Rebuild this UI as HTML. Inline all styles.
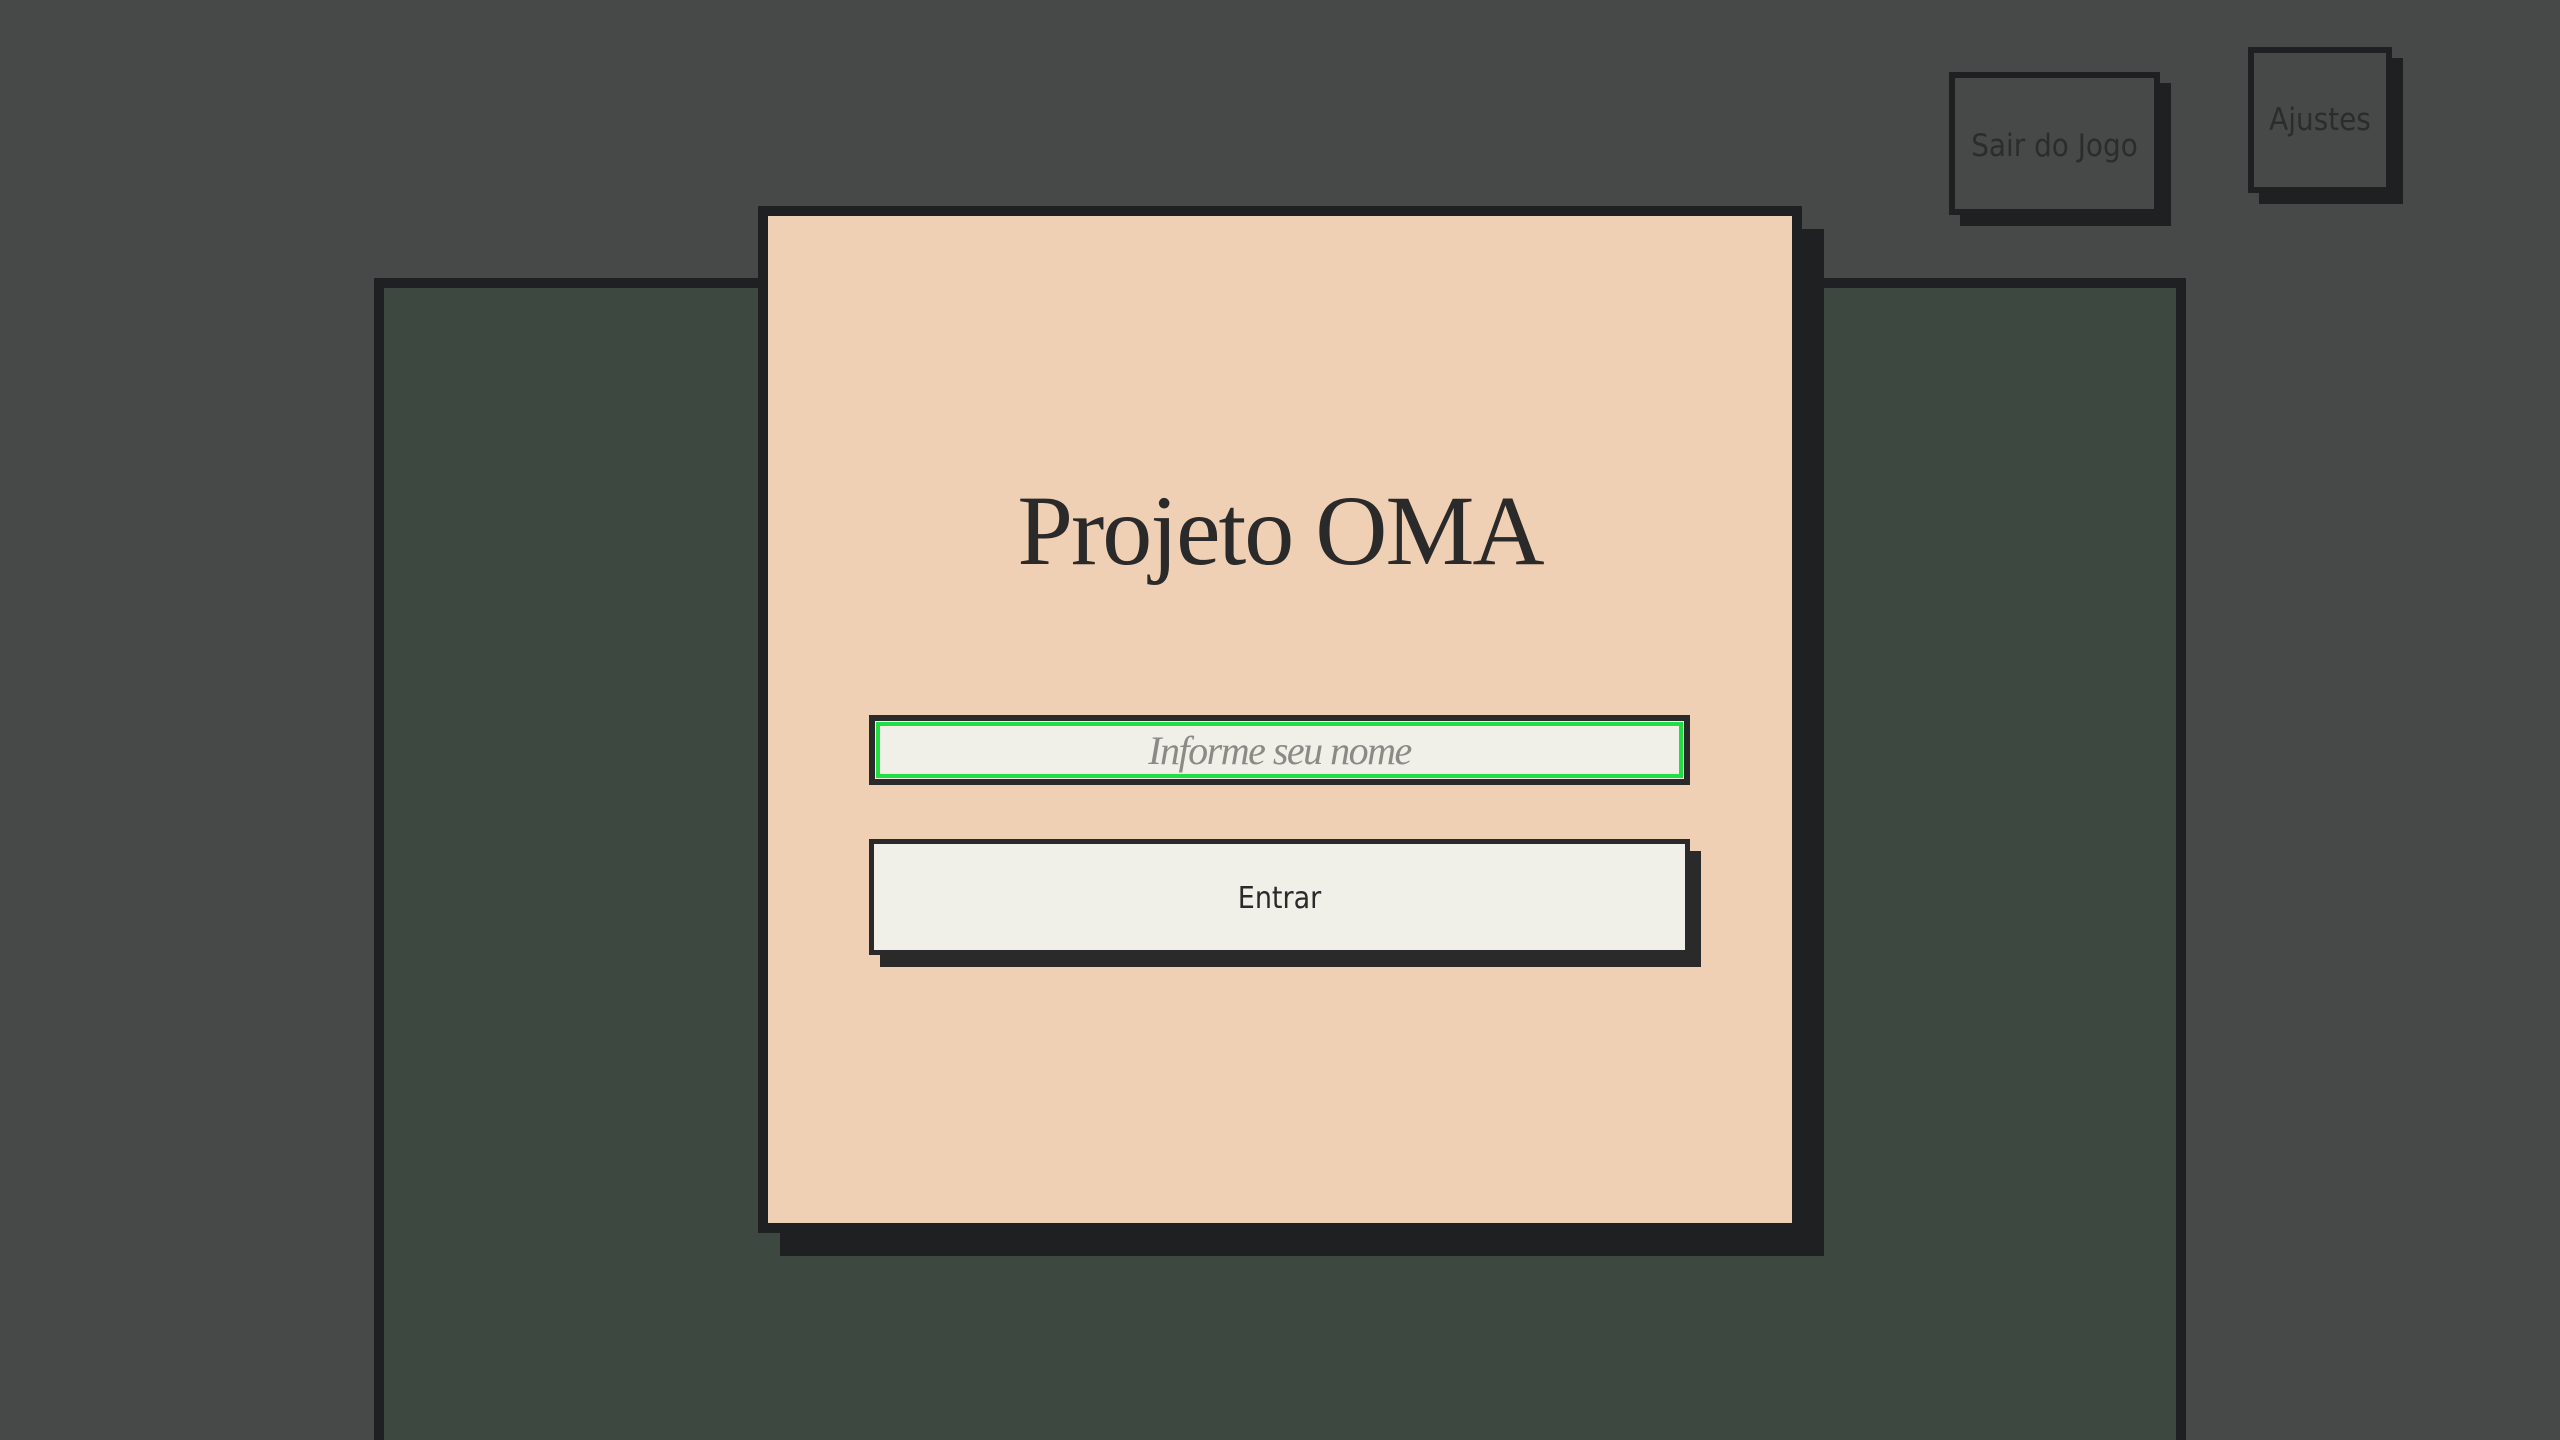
<!DOCTYPE html>
<html style="width:2560px;height:1440px;overflow:hidden"><head><meta charset="utf-8"><style>
*{margin:0;padding:0;box-sizing:border-box}
body{width:2560px;height:1440px;background:#474948;position:relative;overflow:hidden;font-family:"DejaVu Sans","Liberation Sans",sans-serif}
.abs{position:absolute}
.btn{position:absolute;border:6px solid #1f2022;background:#474948;box-shadow:11px 11px 0 #1f2022;display:flex;align-items:center;justify-content:center;color:#2a2c2d;font-size:31px;font-family:"DejaVu Sans Condensed","DejaVu Sans",sans-serif;font-weight:300}
</style></head><body>
<div class="abs" style="left:374px;top:278px;width:1812px;height:1162px;background:#3c4840;border:10px solid #1f2022;border-bottom:none"></div>
<div class="btn" style="left:1949px;top:72px;width:211px;height:143px;padding-top:4px">Sair do Jogo</div>
<div class="btn" style="left:2248px;top:47px;width:144px;height:146px;padding-bottom:0px">Ajustes</div>
<div class="abs" style="left:758px;top:206px;width:1044px;height:1027px;background:#f0d0b4;border:10px solid #1f2022;box-shadow:22px 23px 0 #1f2022"></div>
<div class="abs" style="left:758px;top:473px;width:1044px;text-align:center;font-family:'Liberation Serif',serif;font-size:100px;color:#2a2a2a;letter-spacing:-2px">Projeto OMA</div>
<div class="abs" style="left:869px;top:715px;width:821px;height:70px;border:6px solid #2a2a2a;background:#f0efe8">
 <div style="position:absolute;inset:1px;border:4px solid #22dd44;display:flex;align-items:center;justify-content:center;font-family:'Liberation Serif',serif;font-style:italic;font-size:40px;color:#8a8a86;letter-spacing:-1.5px">Informe seu nome</div>
</div>
<div class="abs" style="left:869px;top:839px;width:821px;height:116px;border:5px solid #2a2a2a;background:#f0efe8;box-shadow:11px 12px 0 #2a2a2a;display:flex;align-items:center;justify-content:center;font-family:'DejaVu Sans Condensed','DejaVu Sans',sans-serif;font-size:30px;color:#2a2a2a;padding-top:2px">Entrar</div>
</body></html>
